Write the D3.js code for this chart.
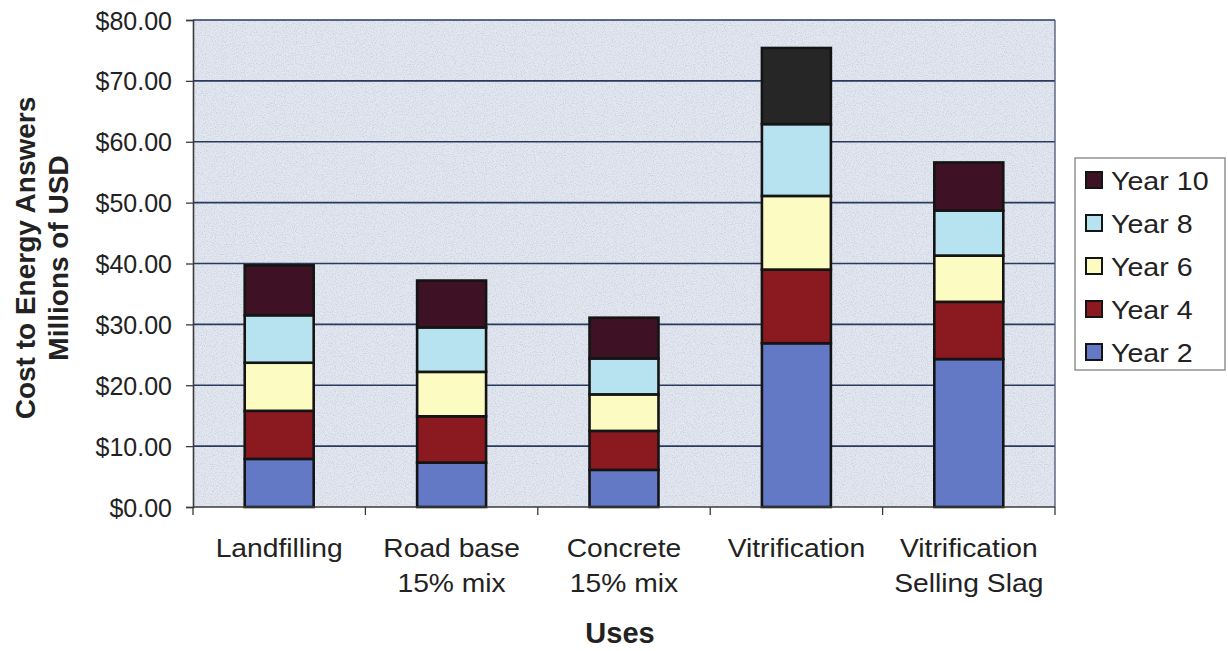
<!DOCTYPE html>
<html>
<head>
<meta charset="utf-8">
<script src="https://cdn.jsdelivr.net/npm/d3@7"></script>
<style>
  html, body { margin: 0; padding: 0; background: #ffffff; }
  svg { display: block; font-family: Arial, "Liberation Sans", sans-serif; }
</style>
</head>
<body>
<svg id="chart" width="1228" height="651"></svg>
<script>
// Cost per use, stacked by year (millions of USD)
const categories = ["Landfilling", "Road base 15% mix", "Concrete 15% mix", "Vitrification", "Vitrification Selling Slag"];
const categoryLines = [["Landfilling"], ["Road base", "15% mix"], ["Concrete", "15% mix"], ["Vitrification"], ["Vitrification", "Selling Slag"]];
const seriesNames = ["Year 2", "Year 4", "Year 6", "Year 8", "Year 10"];
const year2  = [7.9, 7.3, 6.1, 26.9, 24.3];
const year4  = [7.9, 7.6, 6.4, 12.1, 9.4];
const year6  = [7.9, 7.3, 6.0, 12.1, 7.6];
const year8  = [7.8, 7.3, 5.9, 11.8, 7.4];
const year10 = [8.2, 7.7, 6.7, 12.5, 7.9];
const yTicks = [0, 10, 20, 30, 40, 50, 60, 70, 80];

const seriesValues = [year2, year4, year6, year8, year10];
const rows = categories.map((c, i) => {
  const r = { category: c };
  seriesNames.forEach((s, j) => { r[s] = seriesValues[j][i]; });
  return r;
});

const colors = {
  "Year 2": "#6479c6",
  "Year 4": "#8a1a20",
  "Year 6": "#fcfbc2",
  "Year 8": "#b7e2ef",
  "Year 10": "#3e1224"
};
// the top segment of the Vitrification bar is printed near-black
const segmentOverride = { "Vitrification|Year 10": "#262626" };

const svg = d3.select("#chart");
const plot = { left: 193, right: 1055, top: 20, bottom: 507 };

const x = d3.scaleBand().domain(categories).range([plot.left, plot.right])
  .paddingInner(0.6).paddingOuter(0.3);
const y = d3.scaleLinear().domain([0, 80]).range([plot.bottom, plot.top]);

// speckled plot background
const defs = svg.append("defs");
const f = defs.append("filter").attr("id", "speckle").attr("x", 0).attr("y", 0).attr("width", 1).attr("height", 1);
f.append("feTurbulence").attr("type", "fractalNoise").attr("baseFrequency", 0.9).attr("numOctaves", 2).attr("seed", 3).attr("result", "n");
f.append("feColorMatrix").attr("in", "n").attr("type", "matrix")
  .attr("values", "0 0 0 0 0.55  0 0 0 0 0.6  0 0 0 0 0.72  0 0 0 -2.2 1.25").attr("result", "dots");
f.append("feComposite").attr("in", "dots").attr("in2", "SourceGraphic").attr("operator", "in").attr("result", "d2");
f.append("feMerge").selectAll("feMergeNode").data(["SourceGraphic", "d2"]).join("feMergeNode").attr("in", d => d);

svg.append("rect")
  .attr("x", plot.left).attr("y", plot.top)
  .attr("width", plot.right - plot.left).attr("height", plot.bottom - plot.top)
  .attr("fill", "#e3e7f0")
  .attr("filter", "url(#speckle)");

// horizontal gridlines
svg.append("g").selectAll("line").data(yTicks.filter(d => d > 0)).join("line")
  .attr("x1", plot.left).attr("x2", plot.right)
  .attr("y1", d => y(d)).attr("y2", d => y(d))
  .attr("stroke", "#283a5e").attr("stroke-width", 1.6);

// right frame edge
svg.append("line")
  .attr("x1", plot.right).attr("x2", plot.right).attr("y1", plot.top).attr("y2", plot.bottom)
  .attr("stroke", "#55607a").attr("stroke-width", 1.4);

// stacked bars
const stack = d3.stack().keys(seriesNames);
const layers = stack(rows);
svg.append("g").selectAll("g").data(layers).join("g")
  .each(function (layer) {
    d3.select(this).selectAll("rect").data(layer).join("rect")
      .attr("x", d => x(d.data.category))
      .attr("width", x.bandwidth())
      .attr("y", d => y(d[1]))
      .attr("height", d => y(d[0]) - y(d[1]))
      .attr("fill", d => segmentOverride[d.data.category + "|" + layer.key] || colors[layer.key])
      .attr("stroke", "#141414").attr("stroke-width", 2.6);
  });

// y axis
const yAxis = d3.axisLeft(y).tickValues(yTicks).tickSize(7).tickPadding(14)
  .tickFormat(d => "$" + d3.format(".2f")(d));
const gy = svg.append("g").attr("transform", `translate(${plot.left},0)`).call(yAxis);
gy.select(".domain").attr("stroke", "#3a3a3a").attr("stroke-width", 1.6);
gy.selectAll(".tick line").attr("stroke", "#3a3a3a").attr("stroke-width", 1.3);
gy.selectAll(".tick text").attr("font-size", 25).attr("fill", "#222").attr("dy", "0.36em")
  .attr("font-family", "Arial, 'Liberation Sans', sans-serif");

// x axis: line and ticks at category boundaries
const gx = svg.append("g").attr("transform", `translate(0,${plot.bottom})`);
gx.append("line").attr("x1", plot.left).attr("x2", plot.right).attr("stroke", "#3a3a3a").attr("stroke-width", 1.6);
const step = x.step();
const boundaries = d3.range(categories.length + 1).map(i => x(categories[0]) - step * x.paddingInner() / 2 + i * step);
gx.selectAll("line.tick").data(boundaries).join("line").attr("class", "tick")
  .attr("x1", d => d).attr("x2", d => d).attr("y1", 0).attr("y2", 8)
  .attr("stroke", "#3a3a3a").attr("stroke-width", 1.3);

// category labels
const labels = svg.append("g");
categories.forEach((c, i) => {
  const cx = x(c) + x.bandwidth() / 2;
  categoryLines[i].forEach((line, k) => {
    labels.append("text")
      .attr("transform", `translate(${cx},${557 + k * 35}) scale(1.13,1)`)
      .attr("text-anchor", "middle")
      .attr("font-size", 25).attr("fill", "#222")
      .text(line);
  });
});

// axis titles
svg.append("text")
  .attr("x", (plot.left + plot.right) / 2 - 4).attr("y", 643)
  .attr("text-anchor", "middle").attr("font-size", 29).attr("font-weight", "bold").attr("fill", "#222")
  .text("Uses");

const yTitle = svg.append("text")
  .attr("transform", "translate(35,258) rotate(-90)")
  .attr("text-anchor", "middle").attr("font-size", 28).attr("font-weight", "bold").attr("fill", "#222");
yTitle.append("tspan").attr("x", 0).attr("y", 0).text("Cost to Energy Answers");
yTitle.append("tspan").attr("x", 0).attr("y", 33).text("Millions of USD");

// legend
const legend = svg.append("g");
legend.append("rect").attr("x", 1075).attr("y", 158).attr("width", 150).attr("height", 212)
  .attr("fill", "#ffffff").attr("stroke", "#777").attr("stroke-width", 1.2);
const legendItems = seriesNames.slice().reverse();
const li = legend.selectAll("g.item").data(legendItems).join("g").attr("class", "item")
  .attr("transform", (d, i) => `translate(1086,${180 + i * 43})`);
li.append("rect").attr("x", 0).attr("y", -8).attr("width", 16).attr("height", 16)
  .attr("fill", d => colors[d]).attr("stroke", "#141414").attr("stroke-width", 2);
li.append("text")
  .attr("transform", "translate(25,10) scale(1.1,1)")
  .attr("font-size", 26).attr("fill", "#222")
  .text(d => d);
</script>
</body>
</html>
